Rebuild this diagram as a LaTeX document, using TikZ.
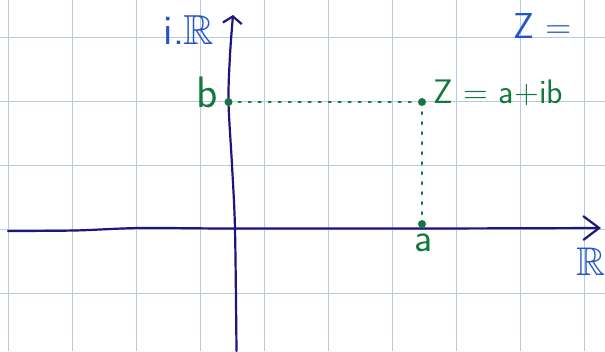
\documentclass[tikz,border=0pt]{standalone}
\usepackage{amssymb}
\usepackage{tikz}
\usetikzlibrary{arrows.meta}

\definecolor{gridblue}{RGB}{186,200,226}
\definecolor{axisnavy}{RGB}{30,22,120}
\definecolor{inkblue}{RGB}{35,85,200}
\definecolor{inkgreen}{RGB}{20,120,62}

\tikzset{
  axisline/.style={axisnavy,line width=2.2pt,line cap=round,line join=round},
  guide/.style={inkgreen,line width=2.2pt,dash pattern=on 2pt off 8pt,line cap=round,shorten <=6pt,shorten >=5pt},
  pointdot/.style={circle,fill=inkgreen,inner sep=0pt,minimum size=8pt},
  bluelabel/.style={inkblue,inner sep=0pt,font=\sffamily\fontsize{36}{38}\selectfont},
  greenlabel/.style={inkgreen,inner sep=0pt,font=\sffamily\fontsize{34}{36}\selectfont}
}

\begin{document}
\begin{tikzpicture}[x=1pt,y=-1pt]
  \useasboundingbox (0,0) rectangle (605,351);
  \clip (0,0) rectangle (605,351);
  \fill[white] (0,0) rectangle (605,351);
  % squared paper
  \foreach \gx in {8.5,72.5,...,600}
    \draw[gridblue,line width=1.3pt] (\gx,0) -- (\gx,351);
  \foreach \gy in {37.3,101.3,...,351}
    \draw[gridblue,line width=1.3pt] (0,\gy) -- (605,\gy);
  % axes
  \draw[axisline,-{Straight Barb[length=16pt,width=24pt,line width=2.2pt]}]
    plot[smooth] coordinates {(8,231) (75,230.5) (140,228) (230,228.5) (420,228.5) (601,228)};
  \draw[axisline,-{Straight Barb[length=7pt,width=19pt,line width=2.2pt]}]
    plot[smooth] coordinates {(236.5,351) (235,229) (232,165) (228.5,102) (230,55) (233,15)};
  % points
  \node[pointdot] (bdot) at (228.5,102) {};
  \node[pointdot] (zdot) at (422,102) {};
  \node[pointdot] (adot) at (422,224) {};
  \draw[guide] (bdot) -- (zdot);
  \draw[guide] (zdot) -- (adot);
  % labels
  \node[greenlabel,font=\sffamily\fontsize{44}{46}\selectfont] (blabel) at (207,92) {b};
  \node[greenlabel,anchor=base west] (zlabel) at (433,103) {Z = a+ib};
  \node[greenlabel,font=\sffamily\fontsize{40}{42}\selectfont] (alabel) at (424,243) {a};
  \node[bluelabel,font=\sffamily\fontsize{42}{44}\selectfont] (imlabel) at (189,30) {i.$\mathbb{R}$};
  \node[bluelabel,font=\sffamily\fontsize{40}{42}\selectfont] (relabel) at (591,262) {$\mathbb{R}$};
  \node[bluelabel,anchor=base west] (ztop) at (513,38) {Z =};
\end{tikzpicture}
\end{document}
